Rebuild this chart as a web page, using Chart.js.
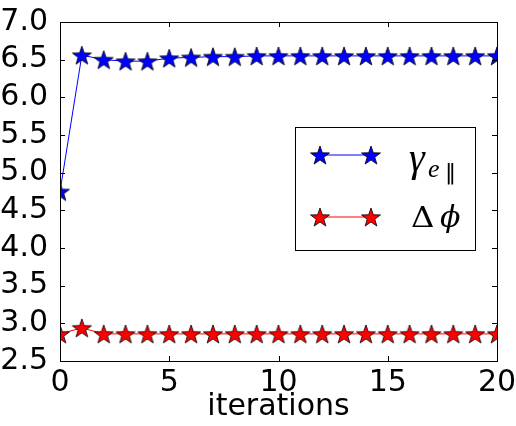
<!DOCTYPE html>
<html lang="en">
<head>
  <meta charset="UTF-8" />
  <title>Iterations</title>
  <script src="https://cdn.jsdelivr.net/npm/chart.js"></script>
  <style>
    body { margin: 0; background: #fff; }
    #wrap { width: 516px; height: 426px; }
  </style>
</head>
<body>
  <div id="wrap"><canvas id="chart" width="516" height="426"></canvas></div>

  <script>
    const iterations = [0, 1, 2, 3, 4, 5, 6, 7, 8, 9, 10, 11, 12, 13, 14, 15, 16, 17, 18, 19, 20];
    const gammaValues = [4.75, 6.56, 6.50, 6.48, 6.48, 6.52, 6.53, 6.54, 6.54, 6.55, 6.55,
                         6.55, 6.55, 6.55, 6.55, 6.55, 6.55, 6.55, 6.55, 6.55, 6.55];
    const dphiValues = [2.86, 2.94, 2.86, 2.86, 2.86, 2.86, 2.86, 2.86, 2.86, 2.86, 2.86,
                        2.86, 2.86, 2.86, 2.86, 2.86, 2.86, 2.86, 2.86, 2.86, 2.86];
    const xTicks = [0, 5, 10, 15, 20];
    const yTicks = [2.5, 3.0, 3.5, 4.0, 4.5, 5.0, 5.5, 6.0, 6.5, 7.0];

    // filled five-point star like matplotlib's '*'
    function makeStar(color, r) {
      const size = Math.ceil(r * 2 + 4);
      const c = document.createElement("canvas");
      c.width = size; c.height = size;
      const g = c.getContext("2d");
      const cx = size / 2, cy = size / 2 + r * 0.1;
      g.beginPath();
      for (let i = 0; i < 10; i++) {
        const rad = i % 2 === 0 ? r : r * 0.4;
        const a = -Math.PI / 2 + i * Math.PI / 5;
        const px = cx + rad * Math.cos(a), py = cy + rad * Math.sin(a);
        if (i === 0) g.moveTo(px, py); else g.lineTo(px, py);
      }
      g.closePath();
      g.fillStyle = color;
      g.fill();
      g.lineWidth = 0.8;
      g.strokeStyle = "#000";
      g.stroke();
      return c;
    }
    const blueStar = makeStar("#0000ff", 10);
    const redStar = makeStar("#ff0000", 10);

    const frameAndLegend = {
      id: "frameAndLegend",
      afterDraw(chart) {
        const ctx = chart.ctx;
        const a = chart.chartArea;
        const xs = chart.scales.x, ys = chart.scales.y;
        ctx.save();
        ctx.strokeStyle = "#000";
        ctx.lineWidth = 1;
        ctx.strokeRect(Math.round(a.left) + 0.5, Math.round(a.top) + 0.5,
                       Math.round(a.right - a.left), Math.round(a.bottom - a.top));
        // inward ticks on all four sides
        ctx.beginPath();
        xTicks.forEach(v => {
          const px = Math.round(xs.getPixelForValue(v)) + 0.5;
          ctx.moveTo(px, a.bottom); ctx.lineTo(px, a.bottom - 5);
          ctx.moveTo(px, a.top); ctx.lineTo(px, a.top + 5);
        });
        yTicks.forEach(v => {
          const py = Math.round(ys.getPixelForValue(v)) + 0.5;
          ctx.moveTo(a.left, py); ctx.lineTo(a.left + 5, py);
          ctx.moveTo(a.right, py); ctx.lineTo(a.right - 5, py);
        });
        ctx.stroke();

        // legend box
        ctx.fillStyle = "#fff";
        ctx.fillRect(295, 127, 181, 123);
        ctx.strokeStyle = "#000";
        ctx.strokeRect(295.5, 127.5, 180, 123);
        const rows = [
          { y: 155, color: "#0000ff", star: blueStar },
          { y: 217, color: "#ff0000", star: redStar }
        ];
        rows.forEach(r => {
          ctx.beginPath();
          ctx.strokeStyle = r.color;
          ctx.lineWidth = 1;
          ctx.moveTo(320, r.y);
          ctx.lineTo(371, r.y);
          ctx.stroke();
          ctx.drawImage(r.star, 320 - r.star.width / 2, r.y - r.star.height / 2);
          ctx.drawImage(r.star, 371 - r.star.width / 2, r.y - r.star.height / 2);
        });
        ctx.fillStyle = "#000";
        ctx.textBaseline = "alphabetic";
        ctx.textAlign = "left";
        ctx.font = "italic 40px 'Liberation Serif'";
        ctx.fillText("\u03B3", 409, 171);
        ctx.font = "italic 26px 'Liberation Serif'";
        ctx.fillText("e", 428, 177);
        ctx.font = "22px 'DejaVu Sans'";
        ctx.fillText("\u2016", 445, 179);
        // Delta, widened a little like the TeX glyph
        ctx.save();
        ctx.translate(411, 227);
        ctx.scale(1.2, 1);
        ctx.font = "27px 'DejaVu Serif'";
        ctx.fillText("\u0394", 0, 0);
        ctx.restore();
        ctx.font = "italic 30px 'DejaVu Serif'";
        ctx.fillText("\u03D5", 440, 227);
        ctx.restore();
      }
    };

    new Chart(document.getElementById("chart"), {
      type: "line",
      data: {
        datasets: [
          {
            label: "gamma",
            data: iterations.map((x, i) => ({ x: x, y: gammaValues[i] })),
            borderColor: "#0000ff",
            borderWidth: 1,
            pointStyle: blueStar,
            tension: 0
          },
          {
            label: "dphi",
            data: iterations.map((x, i) => ({ x: x, y: dphiValues[i] })),
            borderColor: "#ff0000",
            borderWidth: 1,
            pointStyle: redStar,
            tension: 0
          }
        ]
      },
      options: {
        responsive: false,
        animation: false,
        layout: { padding: { top: 16, right: 19, left: 0, bottom: 0 } },
        plugins: { legend: { display: false }, tooltip: { enabled: false } },
        scales: {
          x: {
            type: "linear",
            min: 0, max: 20,
            afterBuildTicks: s => { s.ticks = xTicks.map(v => ({ value: v })); },
            afterFit: s => { s.height = 65; },
            grid: { display: false },
            border: { display: false },
            ticks: { color: "#000", font: { family: "DejaVu Sans", size: 30 }, padding: -4, maxRotation: 0, autoSkip: false },
            title: { display: true, text: "iterations", color: "#000", font: { family: "DejaVu Sans", size: 30 }, padding: { top: 0, bottom: 1 } }
          },
          y: {
            min: 2.5, max: 7.0,
            afterBuildTicks: s => { s.ticks = yTicks.map(v => ({ value: v })); },
            afterFit: s => { s.width = 60; },
            grid: { display: false },
            border: { display: false },
            ticks: { color: "#000", font: { family: "DejaVu Sans", size: 30 }, padding: 4, autoSkip: false, callback: v => v.toFixed(1) }
          }
        }
      },
      plugins: [frameAndLegend]
    });
  </script>
</body>
</html>
